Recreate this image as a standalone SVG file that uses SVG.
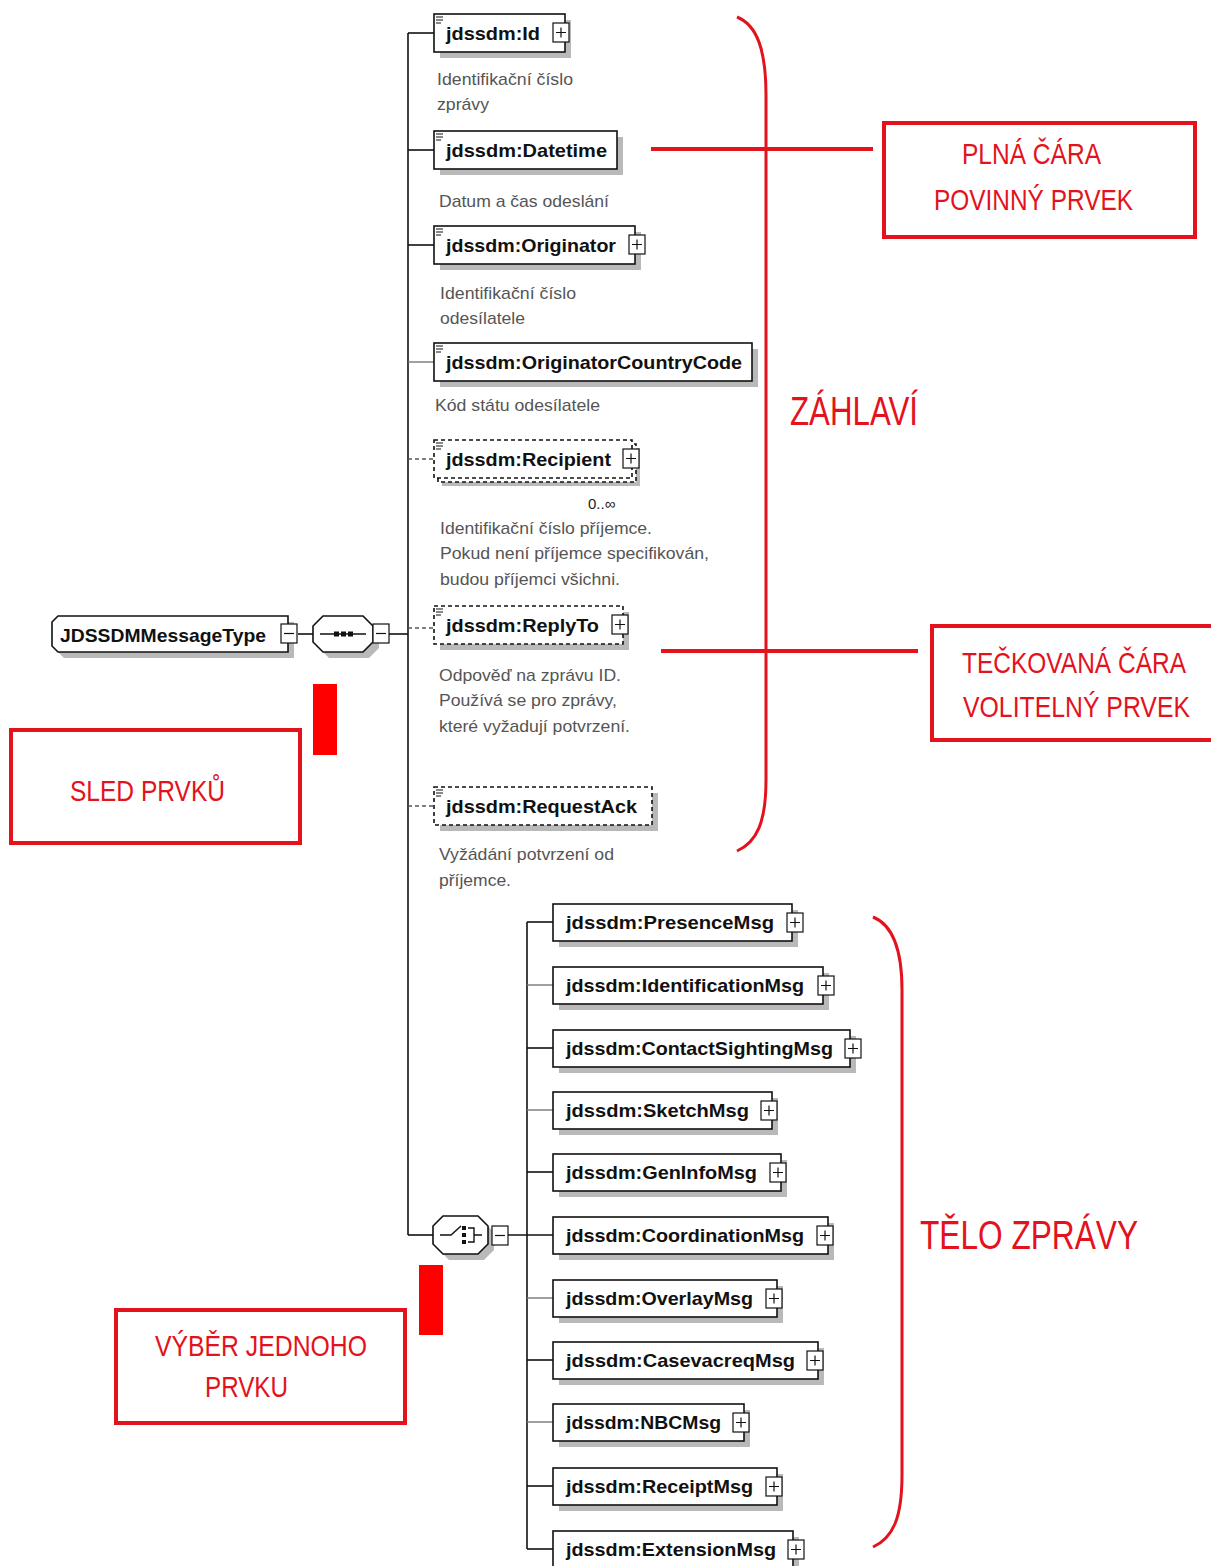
<svg xmlns="http://www.w3.org/2000/svg" xmlns:xlink="http://www.w3.org/1999/xlink" width="1211" height="1566" viewBox="0 0 1211 1566">
  <style>
    .bx{fill:#fff;stroke:#111;stroke-width:1.6}
    .opt{stroke-dasharray:4 3}
    .sh{fill:#b9b9b9}
    .ln{fill:none;stroke:#111;stroke-width:1.6}
    .lg{fill:none;stroke:#777;stroke-width:1.4}
    .dl{fill:none;stroke:#555;stroke-width:1.4;stroke-dasharray:4 3}
    .lbl{font-family:"Liberation Sans",Arial,sans-serif;font-weight:bold;font-size:18.5px;fill:#111}
    .desc{font-family:"Liberation Sans",Arial,sans-serif;font-size:17px;fill:#555}
    .rt{font-family:"Liberation Sans",Arial,sans-serif;fill:#e3121c}
    .rbox{fill:none;stroke:#e3121c;stroke-width:4}
    .rl{fill:none;stroke:#e3121c;stroke-width:4}
    .brace{fill:none;stroke:#e3121c;stroke-width:3}
    .doc{stroke:#111;stroke-width:1.2}
  </style>
  <defs>
    <g id="plus">
      <rect x="0" y="0" width="16" height="19" fill="#fff" stroke="#111" stroke-width="1.2"/>
      <path d="M3 9.5H13M8 4.5V14.5" stroke="#111" stroke-width="1.2"/>
    </g>
    <g id="minus">
      <rect x="0" y="0" width="16" height="19" fill="#fff" stroke="#111" stroke-width="1.2"/>
      <path d="M3 9.5H13" stroke="#111" stroke-width="1.2"/>
    </g>
    <g id="docicon">
      <path d="M0 0H7M0 3H7M0 6H5" class="doc"/>
    </g>
  </defs>

  <rect width="1211" height="1566" fill="#fff"/>

  <!-- connectors -->
  <g id="connectors">
    <!-- root to sequence -->
    <path class="ln" d="M298 634H313"/>
    <path class="ln" d="M389 634H408"/>
    <!-- sequence trunk -->
    <path class="ln" d="M408 33V1235"/>
    <path class="ln" d="M408 33H434"/>
    <path class="ln" d="M408 150H434"/>
    <path class="ln" d="M408 245H434"/>
    <path class="lg" d="M408 362H434"/>
    <path class="dl" d="M408 459H434"/>
    <path class="dl" d="M408 628H434"/>
    <path class="dl" d="M408 806H434"/>
    <path class="ln" d="M408 1235H434"/>
    <!-- choice trunk -->
    <path class="ln" d="M508 1235H553"/>
    <path class="ln" d="M527 922V1549"/>
    <path class="ln" d="M527 922H553"/>
    <path class="lg" d="M527 985H553"/>
    <path class="ln" d="M527 1048H553"/>
    <path class="lg" d="M527 1110H553"/>
    <path class="ln" d="M527 1172H553"/>
    <path class="lg" d="M527 1298H553"/>
    <path class="ln" d="M527 1360H553"/>
    <path class="lg" d="M527 1422H553"/>
    <path class="ln" d="M527 1486H553"/>
    <path class="ln" d="M527 1549H553"/>
  </g>

  <!-- root complex type -->
  <g id="n-root">
    <path class="sh" d="M64 622H294V658H64L58 652V628Z"/>
    <path class="bx" d="M58 616H288V652H58L52 646V622Z"/>
    <text class="lbl" x="60" y="642" textLength="206" lengthAdjust="spacingAndGlyphs">JDSSDMMessageType</text>
    <use xlink:href="#minus" x="281" y="624"/>
  </g>

  <!-- sequence compositor -->
  <g id="n-sequence">
    <path class="sh" d="M329 622H369L379 632V648L369 658H329L319 648V632Z"/>
    <path class="bx" d="M323 616H363L373 626V642L363 652H323L313 642V626Z"/>
    <path d="M320 634H366" stroke="#111" stroke-width="1.4"/>
    <rect x="334" y="631.5" width="5" height="5" fill="#111"/>
    <rect x="341" y="631.5" width="5" height="5" fill="#111"/>
    <rect x="348" y="631.5" width="5" height="5" fill="#111"/>
    <use xlink:href="#minus" x="373" y="624"/>
  </g>

  <!-- header elements -->
  <g id="n-id">
    <rect class="sh" x="440" y="20" width="131" height="38"/>
    <rect class="bx" x="434" y="14" width="131" height="38"/>
    <use xlink:href="#docicon" x="436" y="17"/>
    <text class="lbl" x="446" y="40" textLength="94" lengthAdjust="spacingAndGlyphs">jdssdm:Id</text>
    <use xlink:href="#plus" x="553" y="23"/>
    <text class="desc" x="437" y="85" textLength="136" lengthAdjust="spacingAndGlyphs">Identifikační číslo</text>
    <text class="desc" x="437" y="110" textLength="52" lengthAdjust="spacingAndGlyphs">zprávy</text>
  </g>

  <g id="n-datetime">
    <rect class="sh" x="440" y="137" width="183" height="38"/>
    <rect class="bx" x="434" y="131" width="183" height="38"/>
    <use xlink:href="#docicon" x="436" y="134"/>
    <text class="lbl" x="446" y="157" textLength="161" lengthAdjust="spacingAndGlyphs">jdssdm:Datetime</text>
    <text class="desc" x="439" y="207" textLength="170" lengthAdjust="spacingAndGlyphs">Datum a čas odeslání</text>
  </g>

  <g id="n-originator">
    <rect class="sh" x="440" y="232" width="201" height="38"/>
    <rect class="bx" x="434" y="226" width="201" height="38"/>
    <use xlink:href="#docicon" x="436" y="229"/>
    <text class="lbl" x="446" y="252" textLength="170" lengthAdjust="spacingAndGlyphs">jdssdm:Originator</text>
    <use xlink:href="#plus" x="629" y="235"/>
    <text class="desc" x="440" y="299" textLength="136" lengthAdjust="spacingAndGlyphs">Identifikační číslo</text>
    <text class="desc" x="440" y="324" textLength="85" lengthAdjust="spacingAndGlyphs">odesílatele</text>
  </g>

  <g id="n-countrycode">
    <rect class="sh" x="440" y="349" width="318" height="38"/>
    <rect class="bx" x="434" y="343" width="318" height="38"/>
    <use xlink:href="#docicon" x="436" y="346"/>
    <text class="lbl" x="446" y="369" textLength="296" lengthAdjust="spacingAndGlyphs">jdssdm:OriginatorCountryCode</text>
    <text class="desc" x="435" y="411" textLength="165" lengthAdjust="spacingAndGlyphs">Kód státu odesílatele</text>
  </g>

  <g id="n-recipient">
    <rect class="sh" x="442" y="448" width="198" height="38"/>
    <rect class="bx opt" x="438" y="444" width="198" height="38"/>
    <rect class="bx opt" x="434" y="440" width="198" height="38"/>
    <use xlink:href="#docicon" x="436" y="443"/>
    <text class="lbl" x="446" y="466" textLength="165" lengthAdjust="spacingAndGlyphs">jdssdm:Recipient</text>
    <use xlink:href="#plus" x="623" y="449"/>
    <text x="588" y="509" font-family="Liberation Sans, Arial, sans-serif" font-size="15" fill="#222">0..∞</text>
    <text class="desc" x="440" y="534" textLength="212" lengthAdjust="spacingAndGlyphs">Identifikační číslo příjemce.</text>
    <text class="desc" x="440" y="559" textLength="269" lengthAdjust="spacingAndGlyphs">Pokud není příjemce specifikován,</text>
    <text class="desc" x="440" y="585" textLength="180" lengthAdjust="spacingAndGlyphs">budou příjemci všichni.</text>
  </g>

  <g id="n-replyto">
    <rect class="sh" x="440" y="612" width="189" height="38"/>
    <rect class="bx opt" x="434" y="606" width="189" height="38"/>
    <use xlink:href="#docicon" x="436" y="609"/>
    <text class="lbl" x="446" y="632" textLength="153" lengthAdjust="spacingAndGlyphs">jdssdm:ReplyTo</text>
    <use xlink:href="#plus" x="612" y="615"/>
    <text class="desc" x="439" y="681" textLength="182" lengthAdjust="spacingAndGlyphs">Odpověď na zprávu ID.</text>
    <text class="desc" x="439" y="706" textLength="178" lengthAdjust="spacingAndGlyphs">Používá se pro zprávy,</text>
    <text class="desc" x="439" y="732" textLength="191" lengthAdjust="spacingAndGlyphs">které vyžadují potvrzení.</text>
  </g>

  <g id="n-requestack">
    <rect class="sh" x="440" y="793" width="218" height="38"/>
    <rect class="bx opt" x="434" y="787" width="218" height="38"/>
    <use xlink:href="#docicon" x="436" y="790"/>
    <text class="lbl" x="446" y="813" textLength="191" lengthAdjust="spacingAndGlyphs">jdssdm:RequestAck</text>
    <text class="desc" x="439" y="860" textLength="175" lengthAdjust="spacingAndGlyphs">Vyžádání potvrzení od</text>
    <text class="desc" x="439" y="886" textLength="72" lengthAdjust="spacingAndGlyphs">příjemce.</text>
  </g>

  <!-- choice compositor -->
  <g id="n-choice">
    <path class="sh" d="M449 1222H484L494 1232V1250L484 1260H449L439 1250V1232Z"/>
    <path class="bx" d="M443 1216H478L488 1226V1244L478 1254H443L433 1244V1226Z"/>
    <path d="M440 1235H451L461 1226" fill="none" stroke="#111" stroke-width="1.4"/>
    <rect x="462" y="1226" width="4" height="4" fill="#111"/>
    <rect x="462" y="1233" width="4" height="4" fill="#111"/>
    <rect x="462" y="1240" width="4" height="4" fill="#111"/>
    <path d="M468 1228H474V1242H468M474 1235H482" fill="none" stroke="#111" stroke-width="1.4"/>
    <use xlink:href="#minus" x="492" y="1226"/>
  </g>

  <!-- choice alternatives -->
  <g id="n-presence">
    <rect class="sh" x="559" y="910" width="239" height="37"/>
    <rect class="bx" x="553" y="904" width="239" height="37"/>
    <text class="lbl" x="566" y="929" textLength="208" lengthAdjust="spacingAndGlyphs">jdssdm:PresenceMsg</text>
    <use xlink:href="#plus" x="787" y="913"/>
  </g>
  <g id="n-identification">
    <rect class="sh" x="559" y="973" width="270" height="37"/>
    <rect class="bx" x="553" y="967" width="270" height="37"/>
    <text class="lbl" x="566" y="992" textLength="238" lengthAdjust="spacingAndGlyphs">jdssdm:IdentificationMsg</text>
    <use xlink:href="#plus" x="818" y="976"/>
  </g>
  <g id="n-contact">
    <rect class="sh" x="559" y="1036" width="297" height="37"/>
    <rect class="bx" x="553" y="1030" width="297" height="37"/>
    <text class="lbl" x="566" y="1055" textLength="267" lengthAdjust="spacingAndGlyphs">jdssdm:ContactSightingMsg</text>
    <use xlink:href="#plus" x="845" y="1039"/>
  </g>
  <g id="n-sketch">
    <rect class="sh" x="559" y="1098" width="219" height="37"/>
    <rect class="bx" x="553" y="1092" width="219" height="37"/>
    <text class="lbl" x="566" y="1117" textLength="183" lengthAdjust="spacingAndGlyphs">jdssdm:SketchMsg</text>
    <use xlink:href="#plus" x="761" y="1101"/>
  </g>
  <g id="n-geninfo">
    <rect class="sh" x="559" y="1160" width="228" height="37"/>
    <rect class="bx" x="553" y="1154" width="228" height="37"/>
    <text class="lbl" x="566" y="1179" textLength="191" lengthAdjust="spacingAndGlyphs">jdssdm:GenInfoMsg</text>
    <use xlink:href="#plus" x="770" y="1163"/>
  </g>
  <g id="n-coordination">
    <rect class="sh" x="559" y="1223" width="275" height="37"/>
    <rect class="bx" x="553" y="1217" width="275" height="37"/>
    <text class="lbl" x="566" y="1242" textLength="238" lengthAdjust="spacingAndGlyphs">jdssdm:CoordinationMsg</text>
    <use xlink:href="#plus" x="817" y="1226"/>
  </g>
  <g id="n-overlay">
    <rect class="sh" x="559" y="1286" width="224" height="37"/>
    <rect class="bx" x="553" y="1280" width="224" height="37"/>
    <text class="lbl" x="566" y="1305" textLength="187" lengthAdjust="spacingAndGlyphs">jdssdm:OverlayMsg</text>
    <use xlink:href="#plus" x="766" y="1289"/>
  </g>
  <g id="n-casevac">
    <rect class="sh" x="559" y="1348" width="265" height="37"/>
    <rect class="bx" x="553" y="1342" width="265" height="37"/>
    <text class="lbl" x="566" y="1367" textLength="229" lengthAdjust="spacingAndGlyphs">jdssdm:CasevacreqMsg</text>
    <use xlink:href="#plus" x="807" y="1351"/>
  </g>
  <g id="n-nbc">
    <rect class="sh" x="559" y="1410" width="191" height="37"/>
    <rect class="bx" x="553" y="1404" width="191" height="37"/>
    <text class="lbl" x="566" y="1429" textLength="155" lengthAdjust="spacingAndGlyphs">jdssdm:NBCMsg</text>
    <use xlink:href="#plus" x="733" y="1413"/>
  </g>
  <g id="n-receipt">
    <rect class="sh" x="559" y="1474" width="224" height="37"/>
    <rect class="bx" x="553" y="1468" width="224" height="37"/>
    <text class="lbl" x="566" y="1493" textLength="187" lengthAdjust="spacingAndGlyphs">jdssdm:ReceiptMsg</text>
    <use xlink:href="#plus" x="766" y="1477"/>
  </g>
  <g id="n-extension">
    <rect class="sh" x="559" y="1537" width="240" height="37"/>
    <rect class="bx" x="553" y="1531" width="240" height="37"/>
    <text class="lbl" x="566" y="1556" textLength="210" lengthAdjust="spacingAndGlyphs">jdssdm:ExtensionMsg</text>
    <use xlink:href="#plus" x="788" y="1540"/>
  </g>

  <!-- annotations -->
  <g id="annotations">
    <path class="brace" d="M737 17C757 25 766 50 766 95V780C766 822 757 842 737 851"/>
    <text class="rt" x="790" y="425" font-size="40" textLength="128" lengthAdjust="spacingAndGlyphs">ZÁHLAVÍ</text>

    <path class="rl" d="M651 149H873"/>
    <rect class="rbox" x="884" y="123" width="311" height="114"/>
    <text class="rt" x="962" y="164" font-size="29" textLength="139" lengthAdjust="spacingAndGlyphs">PLNÁ ČÁRA</text>
    <text class="rt" x="934" y="210" font-size="29" textLength="199" lengthAdjust="spacingAndGlyphs">POVINNÝ PRVEK</text>

    <path class="rl" d="M661 651H918"/>
    <rect class="rbox" x="932" y="626" width="290" height="114"/>
    <text class="rt" x="962" y="673" font-size="29" textLength="224" lengthAdjust="spacingAndGlyphs">TEČKOVANÁ ČÁRA</text>
    <text class="rt" x="963" y="717" font-size="29" textLength="227" lengthAdjust="spacingAndGlyphs">VOLITELNÝ PRVEK</text>

    <rect x="313" y="684" width="24" height="71" fill="#f00"/>
    <rect class="rbox" x="11" y="730" width="289" height="113"/>
    <text class="rt" x="70" y="801" font-size="29" textLength="155" lengthAdjust="spacingAndGlyphs">SLED PRVKŮ</text>

    <rect x="419" y="1265" width="24" height="70" fill="#f00"/>
    <rect class="rbox" x="116" y="1310" width="289" height="113"/>
    <text class="rt" x="155" y="1356" font-size="29" textLength="212" lengthAdjust="spacingAndGlyphs">VÝBĚR JEDNOHO</text>
    <text class="rt" x="205" y="1397" font-size="29" textLength="83" lengthAdjust="spacingAndGlyphs">PRVKU</text>

    <path class="brace" d="M873 917C893 925 902 950 902 990V1475C902 1518 893 1538 873 1547"/>
    <text class="rt" x="920" y="1249" font-size="40" textLength="218" lengthAdjust="spacingAndGlyphs">TĚLO ZPRÁVY</text>
  </g>
</svg>
